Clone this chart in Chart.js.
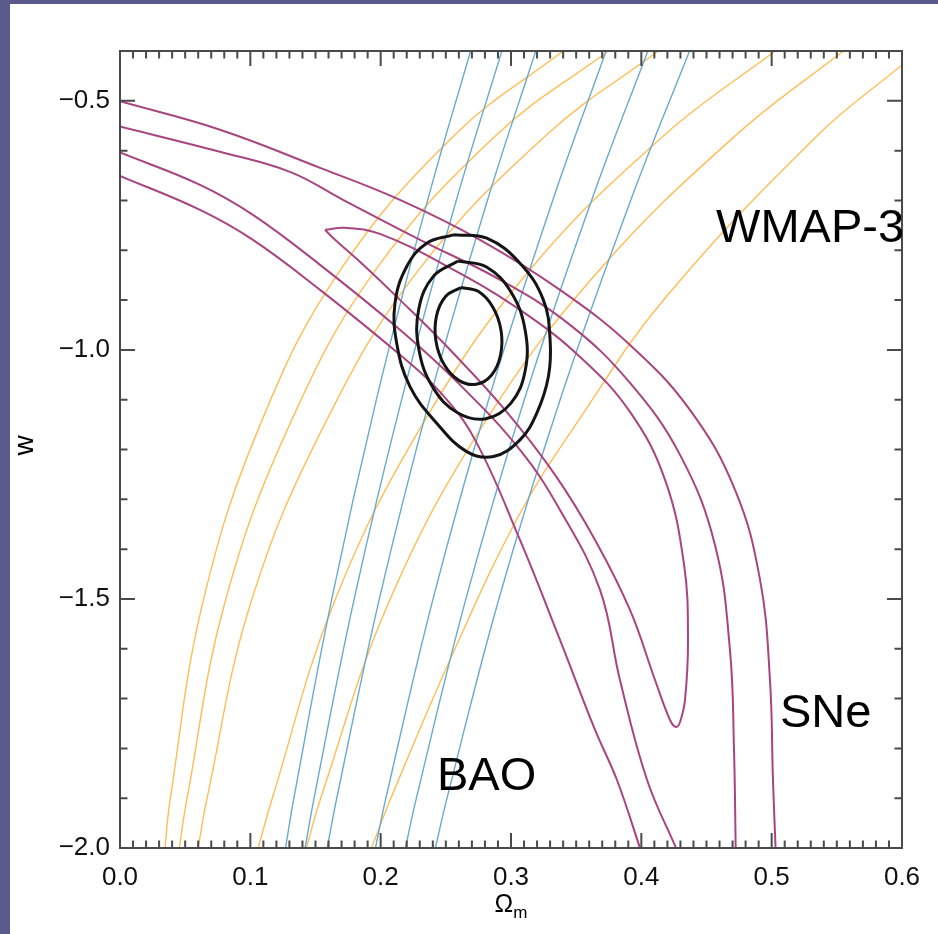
<!DOCTYPE html>
<html>
<head>
<meta charset="utf-8">
<title>w vs Omega_m constraints</title>
<script src="https://cdn.jsdelivr.net/npm/chart.js@4.4.1/dist/chart.umd.min.js"></script>
<style>
    html, body { margin: 0; padding: 0; }
    body { width: 938px; height: 934px; background: #5b5a8d; position: relative; overflow: hidden; }
    #panel { position: absolute; left: 10px; top: 4px; width: 928px; height: 930px; background: #ffffff; }
</style>
</head>
<body>
<div id="panel"><canvas id="cosmoChart"></canvas></div>
<script>
// axis ticks
const xTickValues = [0.0, 0.1, 0.2, 0.3, 0.4, 0.5, 0.6];
const yTickValues = [-2.0, -1.5, -1.0, -0.5];

// BAO bands: Omega_m at the shared w levels
const baoW = [-2.0, -1.9, -1.5, -1.1, -0.7, -0.4];
const bao1 = [0.127, 0.1334, 0.1625, 0.1967, 0.236, 0.269];
const bao2 = [0.142, 0.1489, 0.1797, 0.2161, 0.258, 0.293];
const bao3 = [0.159, 0.1663, 0.199, 0.2375, 0.2819, 0.319];
const bao4 = [0.196, 0.204, 0.2402, 0.2828, 0.332, 0.373];
const bao5 = [0.219, 0.2274, 0.2654, 0.3102, 0.3618, 0.405];
const bao6 = [0.242, 0.2509, 0.2907, 0.3377, 0.3918, 0.437];

// WMAP-3 contours [Omega_m, w]
const wmap1 = [[0.0345, -2.0], [0.0384, -1.904], [0.064, -1.502], [0.109, -1.141], [0.169, -0.84], [0.257, -0.568], [0.34, -0.4]];
const wmap2 = [[0.0455, -2.0], [0.0512, -1.904], [0.081, -1.502], [0.1317, -1.141], [0.196, -0.84], [0.289, -0.568], [0.3747, -0.4]];
const wmap3 = [[0.06, -2.0], [0.0665, -1.904], [0.101, -1.502], [0.1586, -1.141], [0.229, -0.84], [0.3274, -0.568], [0.413, -0.4]];
const wmap4 = [[0.106, -2.0], [0.1164, -1.904], [0.165, -1.502], [0.234, -1.141], [0.3146, -0.839], [0.418, -0.568], [0.5026, -0.4]];
const wmap5 = [[0.143, -2.0], [0.1535, -1.904], [0.207, -1.502], [0.281, -1.141], [0.368, -0.839], [0.473, -0.568], [0.555, -0.4]];
const wmap6 = [[0.193, -2.0], [0.2072, -1.904], [0.257, -1.6], [0.307, -1.328], [0.352, -1.141], [0.417, -0.9], [0.5357, -0.568], [0.6, -0.428]];

// SNe contours [Omega_m, w]
const sneOuterUpper = [[0.0, -0.501], [0.0767, -0.558], [0.1535, -0.6345], [0.2148, -0.6988], [0.2762, -0.7791], [0.3376, -0.8795],
    [0.3913, -0.99], [0.4373, -1.1205], [0.4719, -1.2811], [0.4911, -1.4618], [0.4987, -1.6627], [0.501, -1.8635], [0.503, -2.0]];
const sneMidUpper = [[0.0, -0.5516], [0.0767, -0.6024], [0.1304, -0.6426], [0.1711, -0.6988], [0.2302, -0.7791], [0.2916, -0.8594],
    [0.3453, -0.9498], [0.3913, -1.0663], [0.4297, -1.2108], [0.4565, -1.3916], [0.468, -1.6024], [0.4711, -1.8032], [0.4724, -2.0]];
const sneInner = [[0.1573, -0.759], [0.1726, -0.755], [0.1995, -0.7671], [0.2532, -0.8353], [0.3069, -0.9197], [0.353, -1.0141],
    [0.3913, -1.1245], [0.4182, -1.261], [0.4328, -1.4317], [0.4358, -1.5823], [0.4335, -1.7028], [0.4297, -1.747], [0.4266, -1.757],
    [0.422, -1.743], [0.4105, -1.6627], [0.3913, -1.5221], [0.3645, -1.3815], [0.3338, -1.251], [0.2954, -1.1205], [0.2532, -0.9998],
    [0.2148, -0.8996], [0.1841, -0.8233], [0.165, -0.7791], [0.1573, -0.759]];
const sneMidLower = [[0.0, -0.6038], [0.0614, -0.6687], [0.102, -0.7289], [0.1535, -0.8293], [0.2148, -0.9598], [0.2609, -1.0703],
    [0.3069, -1.2008], [0.3376, -1.3213], [0.3683, -1.4819], [0.3836, -1.6627], [0.4044, -1.8635], [0.4266, -2.0]];
const sneOuterLower = [[0.0, -0.6506], [0.0614, -0.7189], [0.102, -0.7791], [0.1535, -0.8795], [0.2148, -1.01], [0.2455, -1.0843],
    [0.2724, -1.1807], [0.3069, -1.3815], [0.3376, -1.5823], [0.3645, -1.7631], [0.3813, -1.8635], [0.399, -2.0]];

// combined contours [Omega_m, w]
const combInner = [[0.2616, -0.8747], [0.2748, -0.8825], [0.2861, -0.9143], [0.2924, -0.9617], [0.2919, -1.0114], [0.285, -1.0508],
    [0.2732, -1.0691], [0.26, -1.0612], [0.2487, -1.0295], [0.2424, -0.9821], [0.2428, -0.9323], [0.2498, -0.893], [0.2616, -0.8747]];
const combMid = [[0.2594, -0.8217], [0.2812, -0.8335], [0.3001, -0.8845], [0.3109, -0.9611], [0.3108, -1.0428], [0.2998, -1.1074],
    [0.2807, -1.1382], [0.259, -1.1263], [0.2401, -1.0753], [0.2293, -0.9988], [0.2293, -0.9171], [0.2404, -0.8524], [0.2594, -0.8217]];
const combOuter = [[0.2557, -0.7691], [0.2814, -0.7757], [0.3069, -0.8259], [0.3248, -0.8996], [0.33, -0.9799], [0.3287, -1.0536],
    [0.3198, -1.1271], [0.3069, -1.1807], [0.2865, -1.2142], [0.266, -1.2042], [0.243, -1.1472], [0.2225, -1.0737], [0.2123, -0.9866],
    [0.211, -0.9062], [0.22, -0.8327], [0.2353, -0.7858], [0.2557, -0.7691]];

// in-plot labels [text, Omega_m, w] (left edge, baseline)
const plotLabels = [["WMAP-3", 0.4573, -0.783], ["BAO", 0.2432, -1.8835], ["SNe", 0.5064, -1.757]];

const FONT = '"Liberation Sans", Arial, Helvetica, sans-serif';
const BLACK = "#141414";
const MAGENTA = "#a9457e";
const BLUE = "#6ba9cf";
const ORANGE = "#ffbd55";

function pairs(list) {
    return list.map(p => ({ x: p[0], y: p[1] }));
}

function baoPoints(xs) {
    return xs.map((v, i) => ({ x: v, y: baoW[i] }));
}

function curve(data, color, width) {
    return {
        data: data,
        showLine: true,
        borderColor: color,
        borderWidth: width,
        pointRadius: 0,
        pointHoverRadius: 0,
        tension: 0.4,
        fill: false
    };
}

function fmt(v) {
    return v < 0 ? "\u2212" + Math.abs(v).toFixed(1) : v.toFixed(1);
}

// inward ticks on all four sides, frame, labels
const frameAndTicks = {
    id: "frameAndTicks",
    afterDatasetsDraw(chart) {
        const { ctx, chartArea: a, scales: { x, y } } = chart;
        ctx.save();
        ctx.strokeStyle = "#4a4a4a";
        ctx.lineWidth = 2;
        ctx.strokeRect(a.left, a.top, a.right - a.left, a.bottom - a.top);

        ctx.beginPath();
        for (let i = 0; i <= 60; i++) {
            const px = x.getPixelForValue(i * 0.01);
            const len = i % 10 === 0 ? 15 : 7.5;
            ctx.moveTo(px, a.bottom); ctx.lineTo(px, a.bottom - len);
            ctx.moveTo(px, a.top); ctx.lineTo(px, a.top + len);
        }
        for (let i = 0; i <= 16; i++) {
            const py = y.getPixelForValue(-2.0 + i * 0.1);
            const len = i % 5 === 0 ? 15 : 7.5;
            ctx.moveTo(a.left, py); ctx.lineTo(a.left + len, py);
            ctx.moveTo(a.right, py); ctx.lineTo(a.right - len, py);
        }
        ctx.stroke();

        // plot labels
        ctx.fillStyle = "#000";
        ctx.font = "47px " + FONT;
        ctx.textBaseline = "alphabetic";
        ctx.textAlign = "left";
        plotLabels.forEach(l => {
            ctx.fillText(l[0], x.getPixelForValue(l[1]), y.getPixelForValue(l[2]));
        });

        // axis titles
        const cx = (a.left + a.right) / 2;
        ctx.font = "25px " + FONT;
        const wO = ctx.measureText("\u03A9").width;
        ctx.font = "17px " + FONT;
        const wM = ctx.measureText("m").width;
        const startX = cx - (wO + wM) / 2;
        ctx.font = "25px " + FONT;
        ctx.fillText("\u03A9", startX, a.bottom + 64);
        ctx.font = "17px " + FONT;
        ctx.fillText("m", startX + wO, a.bottom + 70);

        ctx.save();
        ctx.translate(a.left - 95, (a.top + a.bottom) / 2 - 4);
        ctx.rotate(-Math.PI / 2);
        ctx.font = "28px " + FONT;
        ctx.textAlign = "center";
        ctx.textBaseline = "middle";
        ctx.fillText("w", 0, 0);
        ctx.restore();

        ctx.restore();
    }
};

document.addEventListener("DOMContentLoaded", () => {
    const ctx = document.getElementById("cosmoChart").getContext("2d");

    const datasets = [
        curve(pairs(combInner), BLACK, 3),
        curve(pairs(combMid), BLACK, 3),
        curve(pairs(combOuter), BLACK, 3),
        curve(pairs(sneOuterUpper), MAGENTA, 2),
        curve(pairs(sneMidUpper), MAGENTA, 2),
        curve(pairs(sneInner), MAGENTA, 2),
        curve(pairs(sneMidLower), MAGENTA, 2),
        curve(pairs(sneOuterLower), MAGENTA, 2),
        curve(baoPoints(bao1), BLUE, 1.4),
        curve(baoPoints(bao2), BLUE, 1.4),
        curve(baoPoints(bao3), BLUE, 1.4),
        curve(baoPoints(bao4), BLUE, 1.4),
        curve(baoPoints(bao5), BLUE, 1.4),
        curve(baoPoints(bao6), BLUE, 1.4),
        curve(pairs(wmap1), ORANGE, 1.4),
        curve(pairs(wmap2), ORANGE, 1.4),
        curve(pairs(wmap3), ORANGE, 1.4),
        curve(pairs(wmap4), ORANGE, 1.4),
        curve(pairs(wmap5), ORANGE, 1.4),
        curve(pairs(wmap6), ORANGE, 1.4)
    ];

    new Chart(ctx, {
        type: "scatter",
        data: { datasets: datasets },
        options: {
            responsive: true,
            maintainAspectRatio: false,
            animation: false,
            layout: { padding: { top: 47, right: 36, left: 0, bottom: 0 } },
            plugins: {
                legend: { display: false },
                tooltip: { enabled: false }
            },
            scales: {
                x: {
                    type: "linear",
                    min: 0,
                    max: 0.6,
                    afterBuildTicks: s => { s.ticks = xTickValues.map(v => ({ value: v })); },
                    afterFit: s => { s.height = 86; },
                    grid: { display: false, drawTicks: false },
                    border: { display: false },
                    ticks: {
                        color: "#111",
                        padding: 14,
                        maxRotation: 0,
                        font: { family: FONT, size: 26 },
                        callback: v => fmt(v)
                    }
                },
                y: {
                    type: "linear",
                    min: -2.0,
                    max: -0.4,
                    afterBuildTicks: s => { s.ticks = yTickValues.map(v => ({ value: v })); },
                    afterFit: s => { s.width = 110; },
                    grid: { display: false, drawTicks: false },
                    border: { display: false },
                    ticks: {
                        color: "#111",
                        padding: 10,
                        font: { family: FONT, size: 26 },
                        callback: v => fmt(v)
                    }
                }
            }
        },
        plugins: [frameAndTicks]
    });
});
</script>
</body>
</html>
